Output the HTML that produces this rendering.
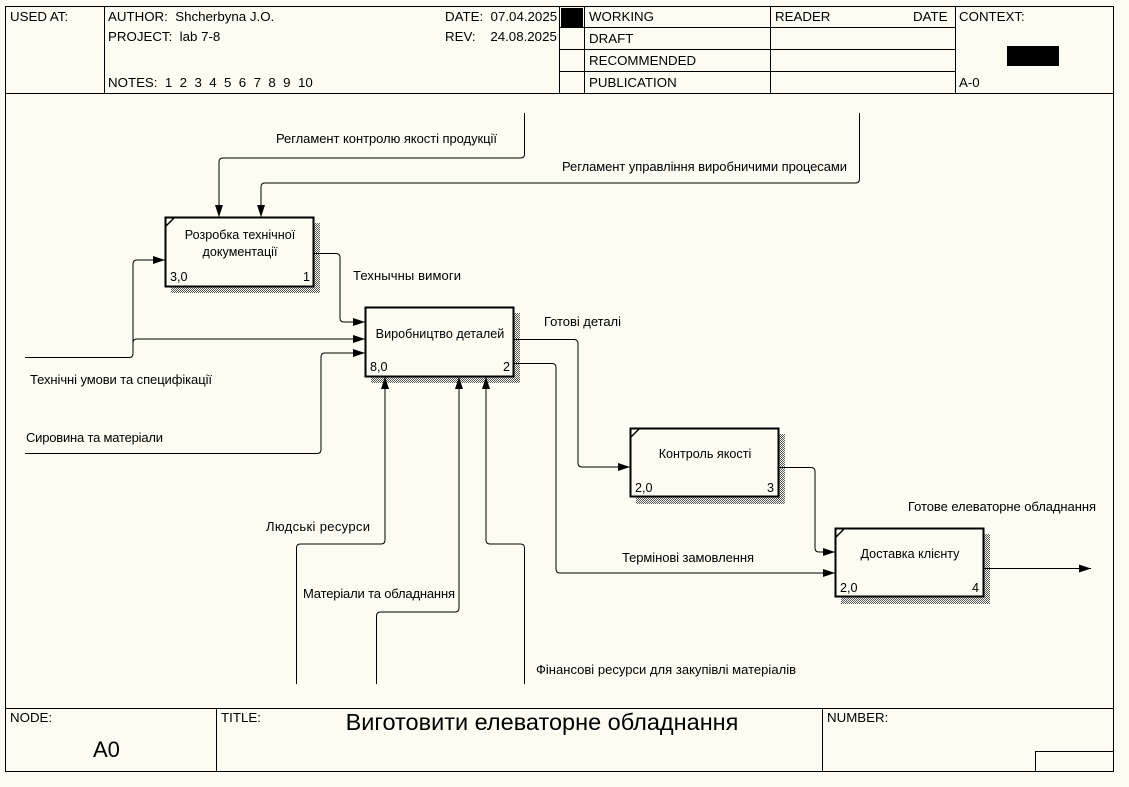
<!DOCTYPE html>
<html><head><meta charset="utf-8"><style>
html,body{margin:0;padding:0;background:#fdfcf2;}
svg{display:block;font-family:"Liberation Sans",sans-serif;}
text{white-space:pre;}
</style></head><body>
<svg width="1129" height="787" viewBox="0 0 1129 787" xmlns="http://www.w3.org/2000/svg">
<defs>
<pattern id="h" width="2" height="2" patternUnits="userSpaceOnUse"><rect width="2" height="2" fill="#fdfcf2"/><rect width="1" height="1" fill="#555"/><rect x="1" y="1" width="1" height="1" fill="#555"/></pattern>
<marker id="a" markerWidth="12" markerHeight="8" refX="12" refY="4" orient="auto" markerUnits="userSpaceOnUse"><path d="M0,0 L12,4 L0,8 z" fill="#000"/></marker>
</defs>
<rect width="1129" height="787" fill="#fdfcf2"/>
<g fill="none" stroke="#000" stroke-width="1">
<rect x="5.5" y="6.5" width="1108" height="765"/>
<line x1="5" y1="93.5" x2="1114" y2="93.5"/>
<line x1="104.5" y1="6" x2="104.5" y2="93"/>
<line x1="559.5" y1="6" x2="559.5" y2="93"/>
<line x1="584.5" y1="6" x2="584.5" y2="93"/>
<line x1="770.5" y1="6" x2="770.5" y2="93"/>
<line x1="955.5" y1="6" x2="955.5" y2="93"/>
<line x1="559" y1="27.5" x2="955" y2="27.5"/>
<line x1="559" y1="49.5" x2="955" y2="49.5"/>
<line x1="559" y1="71.5" x2="955" y2="71.5"/>
<line x1="5" y1="708.5" x2="1114" y2="708.5"/>
<line x1="216.5" y1="708" x2="216.5" y2="772"/>
<line x1="822.5" y1="708" x2="822.5" y2="772"/>
<polyline points="1035.5,772 1035.5,751.5 1114,751.5"/>
</g>
<rect x="561" y="8" width="22" height="19" fill="#000"/>
<rect x="1007" y="46" width="52" height="20" fill="#000"/>
<g font-size="13.3" fill="#000">
<text x="10" y="21">USED AT:</text>
<text x="108" y="21">AUTHOR:  Shcherbyna J.O.</text>
<text x="108" y="41">PROJECT:  lab 7-8</text>
<text x="108" y="87">NOTES:  1  2  3  4  5  6  7  8  9  10</text>
<text x="445" y="21">DATE:  07.04.2025</text>
<text x="445" y="41">REV:    24.08.2025</text>
<text x="589" y="21">WORKING</text>
<text x="589" y="43">DRAFT</text>
<text x="589" y="65">RECOMMENDED</text>
<text x="589" y="87">PUBLICATION</text>
<text x="775" y="21">READER</text>
<text x="913" y="21">DATE</text>
<text x="959" y="21">CONTEXT:</text>
<text x="959" y="87">A-0</text>
<text x="10" y="722">NODE:</text>
<text x="221" y="722">TITLE:</text>
<text x="827" y="722">NUMBER:</text>
</g>
<text x="93" y="757" font-size="22">A0</text>
<text x="542" y="730" font-size="23.5" text-anchor="middle">Виготовити елеваторне обладнання</text>

<g>
<rect x="171" y="223" width="149" height="70" fill="url(#h)"/>
<rect x="165.5" y="217.5" width="148" height="69" fill="#fdfcf2" stroke="#000" stroke-width="2"/>
<line x1="166" y1="226" x2="175" y2="217" stroke="#000" stroke-width="1.5"/>
<rect x="371" y="313" width="149" height="70" fill="url(#h)"/>
<rect x="365.5" y="307.5" width="148" height="69" fill="#fdfcf2" stroke="#000" stroke-width="2"/>
<rect x="636" y="434" width="149" height="70" fill="url(#h)"/>
<rect x="630.5" y="428.5" width="148" height="68" fill="#fdfcf2" stroke="#000" stroke-width="2"/>
<line x1="631" y1="437" x2="640" y2="428" stroke="#000" stroke-width="1.5"/>
<rect x="841" y="534" width="149" height="70" fill="url(#h)"/>
<rect x="835.5" y="528.5" width="148" height="68" fill="#fdfcf2" stroke="#000" stroke-width="2"/>
<line x1="836" y1="537" x2="845" y2="528" stroke="#000" stroke-width="1.5"/>
</g>
<g font-size="12.6" fill="#000">
<text x="240" y="239" text-anchor="middle">Розробка технічної</text>
<text x="240" y="256" text-anchor="middle">документації</text>
<text x="170" y="281">3,0</text><text x="303" y="281">1</text>
<text x="440" y="338" text-anchor="middle">Виробництво деталей</text>
<text x="370" y="371">8,0</text><text x="503" y="371">2</text>
<text x="705" y="458" text-anchor="middle">Контроль якості</text>
<text x="635" y="492">2,0</text><text x="767" y="492">3</text>
<text x="910" y="558" text-anchor="middle">Доставка клієнту</text>
<text x="840" y="592">2,0</text><text x="972" y="592">4</text>
</g>
<g font-size="13" fill="#000">
<text x="276" y="143" textLength="221">Регламент контролю якості продукції</text>
<text x="562" y="171" textLength="285">Регламент управління виробничими процесами</text>
<text x="353" y="280" textLength="108">Технычны вимоги</text>
<text x="544" y="326" textLength="77">Готові деталі</text>
<text x="30" y="384" textLength="182">Технічні умови та специфікації</text>
<text x="26" y="442" textLength="137">Сировина та матеріали</text>
<text x="266" y="531" textLength="104">Людські ресурси</text>
<text x="303" y="598" textLength="152">Матеріали та обладнання</text>
<text x="536" y="674" textLength="260">Фінансові ресурси для закупівлі матеріалів</text>
<text x="622" y="562" textLength="132">Термінові замовлення</text>
<text x="908" y="511" textLength="188">Готове елеваторне обладнання</text>
</g>

<g fill="none" stroke="#000" stroke-width="1">
<path d="M524.5,113 V154 q0,4 -4,4 H223 q-4,0 -4,4 V217" marker-end="url(#a)"/>
<path d="M859.5,113 V179 q0,4 -4,4 H265 q-4,0 -4,4 V217" marker-end="url(#a)"/>
<path d="M314,253.5 H336 q4,0 4,4 V318 q0,4 4,4 H365" marker-end="url(#a)"/>
<path d="M25,357.5 H129 q4,0 4,-4 V264 q0,-4 4,-4 H165" marker-end="url(#a)"/>
<path d="M133,343 q0,-4 4,-4 H365" marker-end="url(#a)"/>
<path d="M25,453.5 H317 q4,0 4,-4 V357 q0,-4 4,-4 H365" marker-end="url(#a)"/>
<path d="M296.5,684 V548 q0,-4 4,-4 H381 q4,0 4,-4 V377" marker-end="url(#a)"/>
<path d="M376.5,684 V616 q0,-4 4,-4 H455 q4,0 4,-4 V377" marker-end="url(#a)"/>
<path d="M524.5,684 V548 q0,-4 -4,-4 H490 q-4,0 -4,-4 V377" marker-end="url(#a)"/>
<path d="M514,339.5 H574 q4,0 4,4 V463 q0,4 4,4 H630" marker-end="url(#a)"/>
<path d="M514,363.5 H552 q4,0 4,4 V569 q0,4 4,4 H835" marker-end="url(#a)"/>
<path d="M779,467.5 H811 q4,0 4,4 V548 q0,4 4,4 H835" marker-end="url(#a)"/>
<path d="M984,568.5 H1091" marker-end="url(#a)"/>
</g>
</svg>
</body></html>
